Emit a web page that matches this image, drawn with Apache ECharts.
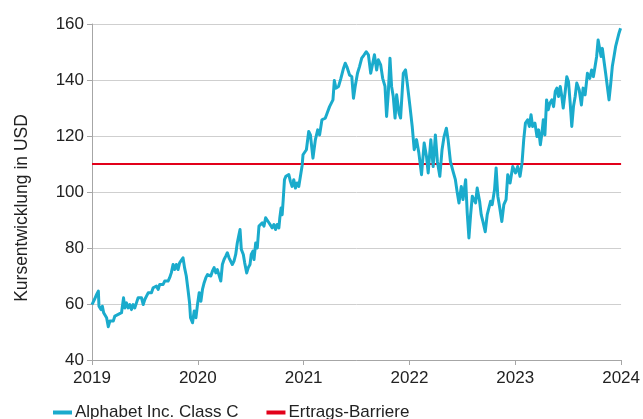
<!DOCTYPE html>
<html><head><meta charset="utf-8">
<script src="https://cdn.jsdelivr.net/npm/echarts@6/dist/echarts.min.js"></script>
<style>html,body{margin:0;padding:0;background:#fff}#c{width:643px;height:419px}</style>
</head><body><div id="c"></div>
<script>
// Decimal-year positions (time) of the price observations
const years = [
2019.000,2019.023,2019.044,2019.060,2019.066,2019.085,2019.098,2019.110,2019.122,2019.138,
2019.154,2019.169,2019.185,2019.201,2019.216,2019.232,2019.248,2019.263,2019.279,2019.298,
2019.310,2019.326,2019.342,2019.357,2019.373,2019.389,2019.404,2019.420,2019.436,2019.452,
2019.468,2019.484,2019.499,2019.515,2019.531,2019.546,2019.562,2019.578,2019.593,2019.609,
2019.625,2019.640,2019.656,2019.672,2019.687,2019.703,2019.719,2019.734,2019.750,2019.766,
2019.781,2019.797,2019.813,2019.828,2019.844,2019.860,2019.875,2019.891,2019.907,2019.922,
2019.931,2019.950,2019.966,2019.982,2019.997,2020.013,2020.029,2020.044,2020.060,2020.076,
2020.091,2020.107,2020.123,2020.138,2020.154,2020.170,2020.185,2020.201,2020.217,2020.232,
2020.248,2020.264,2020.279,2020.295,2020.311,2020.326,2020.342,2020.358,2020.373,2020.389,
2020.399,2020.411,2020.430,2020.443,2020.462,2020.477,2020.493,2020.505,2020.521,2020.531,
2020.547,2020.562,2020.578,2020.594,2020.609,2020.625,2020.641,2020.656,2020.672,2020.688,
2020.703,2020.719,2020.735,2020.750,2020.766,2020.775,2020.787,2020.797,2020.806,2020.819,
2020.832,2020.844,2020.860,2020.875,2020.891,2020.907,2020.923,2020.938,2020.954,2020.970,
2020.986,2020.994,
2021.026,2021.048,2021.064,2021.088,2021.111,2021.133,2021.151,2021.173,2021.205,2021.227,
2021.245,2021.258,2021.277,2021.290,2021.305,2021.330,2021.352,2021.377,2021.393,2021.408,
2021.434,2021.455,2021.471,2021.487,2021.509,2021.528,2021.549,2021.572,2021.591,2021.612,
2021.634,2021.653,2021.669,2021.690,2021.706,2021.728,2021.747,2021.769,2021.784,2021.800,
2021.816,2021.831,2021.847,2021.864,2021.879,2021.901,2021.916,2021.942,2021.963,2021.979,
2022.005,2022.026,2022.045,2022.067,2022.089,2022.114,2022.139,2022.161,2022.177,2022.202,
2022.224,2022.245,2022.264,2022.287,2022.308,2022.327,2022.349,2022.365,2022.387,2022.412,
2022.434,2022.452,2022.468,2022.490,2022.506,2022.531,2022.546,2022.562,2022.578,2022.594,
2022.609,2022.625,2022.640,2022.663,2022.678,2022.694,2022.716,2022.735,2022.751,2022.767,
2022.782,2022.804,2022.819,2022.835,2022.851,2022.873,2022.892,2022.913,2022.929,2022.951,
2022.976,2023.002,2023.023,2023.045,2023.064,2023.080,2023.096,2023.117,2023.133,2023.149,
2023.164,2023.186,2023.205,2023.221,2023.237,2023.252,2023.265,2023.280,2023.296,2023.312,
2023.327,2023.346,2023.362,2023.378,2023.393,2023.409,2023.425,2023.440,2023.453,2023.472,
2023.487,2023.503,2023.519,2023.534,2023.550,2023.566,2023.581,2023.604,2023.625,2023.641,
2023.660,2023.682,2023.704,2023.722,2023.738,2023.754,2023.769,2023.783,2023.798,2023.811,
2023.823,2023.839,2023.854,2023.870,2023.886,2023.901,2023.917,2023.933,2023.948,2023.964,
2023.980,2023.995
];
// Alphabet Inc. Class C, price in USD
const alphabet = [
59.8,61.6,63.4,64.6,59.2,58.0,59.2,56.9,57.5,55.1,
51.9,53.9,54.5,53.9,55.7,55.1,56.3,56.9,56.9,62.2,
58.6,60.4,58.6,59.8,58.0,59.8,58.6,60.4,62.2,61.6,
62.2,59.8,61.6,62.8,64.0,64.6,64.0,65.8,65.2,66.4,
65.2,67.0,67.6,67.0,68.2,67.6,68.2,69.4,71.2,74.1,
72.3,74.1,72.3,74.7,75.3,76.5,72.9,70.0,65.2,60.4,
55.1,53.3,57.5,55.1,59.8,64.0,61.0,65.2,67.6,69.4,
70.5,71.1,70.0,71.7,73.0,71.1,72.3,71.7,68.2,74.1,
75.9,77.1,78.3,76.5,75.9,74.1,75.3,77.7,81.8,84.8,
86.6,79.5,77.7,74.7,71.1,73.0,74.1,77.7,78.9,75.9,
81.8,80.0,87.8,88.4,89.0,87.8,90.8,91.3,89.0,89.6,
87.2,88.4,86.6,88.4,87.2,90.8,94.3,91.9,96.7,104.4,
105.6,105.0,106.2,103.8,102.0,104.4,101.4,103.2,102.0,102.0,
109.5,113.3,
115.1,121.6,120.4,112.1,118.7,122.2,120.4,125.8,126.4,128.7,
130.5,130.0,132.9,139.8,137.1,137.7,140.6,144.2,146.0,144.8,
141.8,141.2,133.5,137.7,142.4,144.8,147.8,149.0,150.1,149.0,
142.4,146.0,149.0,143.6,147.2,145.4,140.6,137.7,127.0,135.3,
147.8,137.7,134.1,126.4,134.7,128.2,126.4,142.4,143.6,138.9,
130.5,123.4,115.1,118.7,113.9,106.2,117.5,112.7,106.8,118.7,
109.1,120.4,110.9,105.6,115.1,119.8,122.8,118.7,110.9,107.4,
104.4,99.7,96.1,102.0,97.3,104.4,92.5,83.6,91.9,98.5,
97.3,96.1,101.4,96.7,91.9,89.5,85.8,91.9,91.3,96.7,
95.5,100.8,108.6,98.5,94.9,89.5,95.5,97.3,106.2,103.2,
109.1,106.8,109.1,105.6,110.4,118.7,124.6,125.8,123.4,127.6,
123.4,124.6,119.8,122.2,116.9,121.0,125.8,120.4,132.9,129.4,
131.7,132.9,130.5,135.9,137.1,134.1,137.7,134.1,130.0,135.9,
141.2,139.4,131.7,123.4,130.5,134.1,138.9,136.5,131.1,137.1,
134.7,142.4,140.6,143.6,141.2,144.8,148.4,154.3,154.9,148.4,
151.3,146.6,142.4,137.7,132.9,138.3,144.8,148.4,151.9,151.3,
156.7,158.5
];
// Ertrags-Barriere (USD)
const barrierYears = [2019, 2024];
const barrier = [110, 110];
const yTicks = [40, 60, 80, 100, 120, 140, 160];
const xTicks = [2019, 2020, 2021, 2022, 2023, 2024];

const font = 'Liberation Sans, Arial, sans-serif';
const txt = '#222222';
const chart = echarts.init(document.getElementById('c'), null, {renderer: 'canvas'});
chart.setOption({
  animation: false,
  backgroundColor: '#ffffff',
  grid: {left: 92, right: 19, top: 24, bottom: 59, containLabel: false},
  legend: {
    left: 48, top: 399, itemGap: 28, itemWidth: 19, itemHeight: 4, icon: 'rect',
    textStyle: {fontFamily: font, fontSize: 17, color: txt, padding: [0, 0, 0, -2]},
    data: ['Alphabet Inc. Class C', 'Ertrags-Barriere']
  },
  graphic: [{
    type: 'text', rotation: Math.PI / 2, x: 22, y: 208,
    style: {text: 'Kursentwicklung in USD', font: '17.5px ' + font, fill: txt,
      textAlign: 'center', textVerticalAlign: 'middle'}
  }],
  xAxis: {
    type: 'value', min: xTicks[0], max: xTicks[xTicks.length - 1], interval: 1,
    axisLine: {show: true, lineStyle: {color: '#a6a6a6', width: 1}},
    axisTick: {show: true, length: 5, lineStyle: {color: '#a6a6a6'}},
    splitLine: {show: false},
    axisLabel: {fontFamily: font, fontSize: 17, color: txt, margin: 10,
      formatter: v => String(v)}
  },
  yAxis: {
    type: 'value', min: yTicks[0], max: yTicks[yTicks.length - 1], interval: 20,
    axisLine: {show: true, lineStyle: {color: '#a6a6a6', width: 1}},
    axisTick: {show: true, length: 5, lineStyle: {color: '#a6a6a6'}},
    splitLine: {show: true, lineStyle: {color: '#cfcfcf', width: 1}},
    axisLabel: {fontFamily: font, fontSize: 17, color: txt, margin: 8}
  },
  series: [
    {
      name: 'Alphabet Inc. Class C', type: 'line', showSymbol: false, symbol: 'none',
      data: years.map((t, i) => [t, alphabet[i]]),
      lineStyle: {color: '#1aabcc', width: 3, join: 'round'},
      itemStyle: {color: '#1aabcc'}, z: 3
    },
    {
      name: 'Ertrags-Barriere', type: 'line', showSymbol: false, symbol: 'none',
      data: barrierYears.map((t, i) => [t, barrier[i]]),
      lineStyle: {color: '#e2001a', width: 2},
      itemStyle: {color: '#e2001a'}, z: 2
    }
  ]
});
</script>
</body></html>
